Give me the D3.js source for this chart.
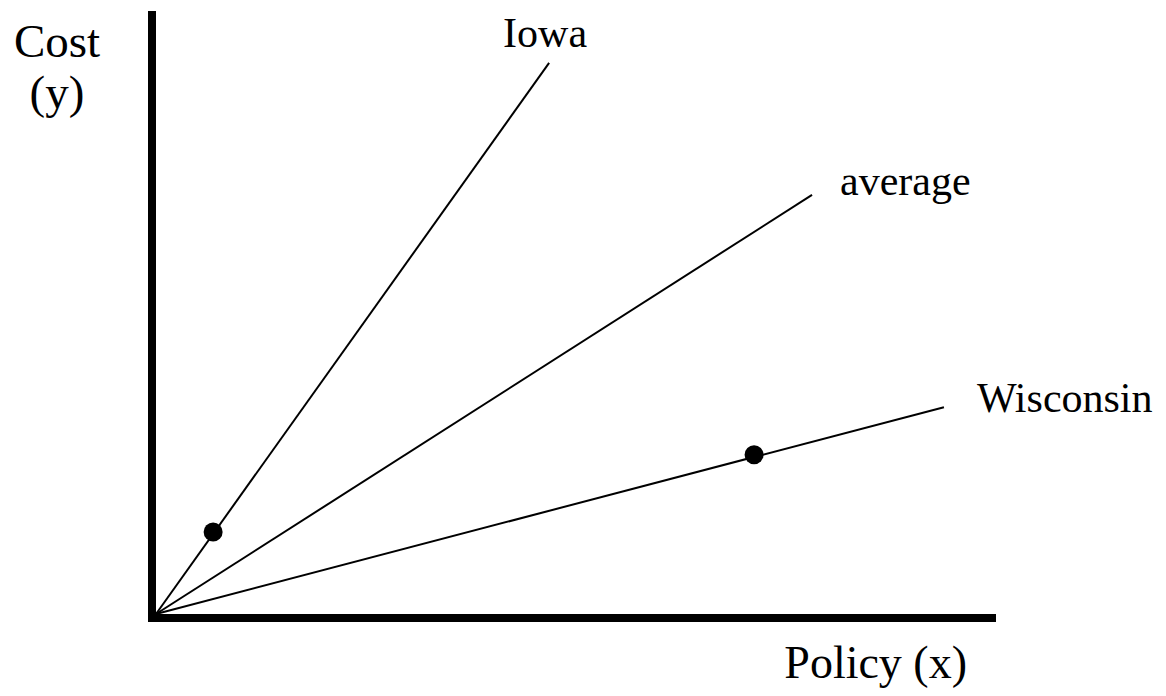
<!DOCTYPE html>
<html>
<head>
<meta charset="utf-8">
<script src="https://cdn.jsdelivr.net/npm/d3@7"></script>
<style>
html,body{margin:0;padding:0;background:#fff;}
svg{display:block;}
text{font-family:"Liberation Serif","Times New Roman",serif;fill:#000;}
</style>
</head>
<body>
<svg id="chart" width="1166" height="696"></svg>
<script>
// Data (in chart units)
const lineNames = ["Iowa", "average", "Wisconsin"];
const lineEndX = [4.68, 7.81, 9.38];
const lineEndY = [9.14, 6.95, 3.43];
const pointX = [0.68, 7.12];
const pointY = [1.36, 2.64];
const xLabel = "Policy (x)";
const yLabelLines = ["Cost", "(y)"];

const svg = d3.select("#chart");
const x = d3.scaleLinear().domain([0, 10]).range([156, 996]);
const y = d3.scaleLinear().domain([0, 10]).range([614, 11]);

// axes
const axW = 8;
svg.append("line")
  .attr("x1", x(0) - axW/2).attr("x2", x(0) - axW/2)
  .attr("y1", y(10)).attr("y2", y(0) + axW)
  .attr("stroke", "#000").attr("stroke-width", axW);
svg.append("line")
  .attr("x1", x(0) - axW).attr("x2", x(10))
  .attr("y1", y(0) + axW/2).attr("y2", y(0) + axW/2)
  .attr("stroke", "#000").attr("stroke-width", axW);

// lines
const lines = lineNames.map((n, i) => ({name: n, x: lineEndX[i], y: lineEndY[i]}));
svg.selectAll("line.series").data(lines).enter().append("line")
  .attr("class", "series")
  .attr("x1", x(0)).attr("y1", y(0))
  .attr("x2", d => x(d.x)).attr("y2", d => y(d.y))
  .attr("stroke", "#000").attr("stroke-width", 2);

// labels
const labelOffsets = [[-46, -16], [28, 0], [33, 5]];
svg.selectAll("text.lbl").data(lines).enter().append("text")
  .attr("class", "lbl")
  .attr("x", (d, i) => x(d.x) + labelOffsets[i][0])
  .attr("y", (d, i) => y(d.y) + labelOffsets[i][1])
  .attr("font-size", 42)
  .text(d => d.name);

// points
svg.selectAll("circle").data(pointX.map((v, i) => ({x: v, y: pointY[i]}))).enter().append("circle")
  .attr("cx", d => x(d.x)).attr("cy", d => y(d.y)).attr("r", 9.5).attr("fill", "#000");

// axis titles
svg.append("text").attr("x", 967).attr("y", 678).attr("text-anchor", "end")
  .attr("font-size", 46).text(xLabel);
const yt = svg.append("text").attr("font-size", 47).attr("text-anchor", "middle");
yLabelLines.forEach((t, i) => {
  yt.append("tspan").attr("x", 57).attr("y", 57 + i * 51).text(t);
});
</script>
</body>
</html>
